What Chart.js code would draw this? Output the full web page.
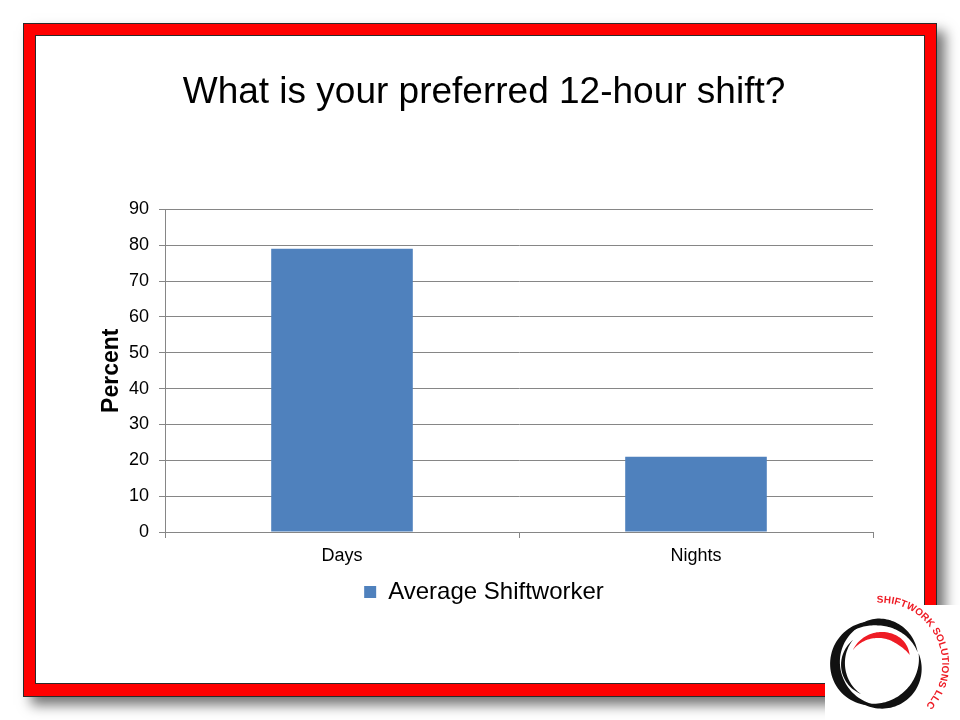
<!DOCTYPE html>
<html>
<head>
<meta charset="utf-8">
<title>What is your preferred 12-hour shift?</title>
<script src="https://cdn.jsdelivr.net/npm/chart.js@4.4.1/dist/chart.umd.min.js"></script>
<style>
  html, body { margin: 0; padding: 0; background: #ffffff; }
  #wrap { width: 960px; height: 720px; position: relative; }
</style>
</head>
<body>
<div id="wrap"><canvas id="chart" width="960" height="720"></canvas></div>
<script>
// Survey results
const chartTitle = 'What is your preferred 12-hour shift?';
const categories = ['Days', 'Nights'];
const seriesName = 'Average Shiftworker';
const percentValues = [79, 21];
const yTicks = [0, 10, 20, 30, 40, 50, 60, 70, 80, 90];
const yAxisTitle = 'Percent';
const logoText = 'SHIFTWORK SOLUTIONS LLC';

const FONT = "'Liberation Sans', Arial, Helvetica, sans-serif";

// Tapered arc stroke used for the badge swirls; `peak` sets where it is thickest
function swirl(ctx, cx, cy, r, a0, a1, maxW, color, peak) {
  const n = 48;
  const p = peak === undefined ? 0.5 : peak;
  const width = t => {
    const u = t < p ? t / p : (1 - t) / (1 - p);
    return maxW * Math.sin(Math.PI / 2 * Math.max(0, u));
  };
  ctx.fillStyle = color;
  ctx.beginPath();
  for (let i = 0; i <= n; i++) {
    const t = i / n;
    const a = a0 + (a1 - a0) * t;
    const rr = r + width(t) / 2;
    const x = cx + rr * Math.cos(a), y = cy + rr * Math.sin(a);
    if (i === 0) ctx.moveTo(x, y); else ctx.lineTo(x, y);
  }
  for (let i = n; i >= 0; i--) {
    const t = i / n;
    const a = a0 + (a1 - a0) * t;
    const rr = r - width(t) / 2;
    ctx.lineTo(cx + rr * Math.cos(a), cy + rr * Math.sin(a));
  }
  ctx.closePath();
  ctx.fill();
}

// Slide background: drop-shadowed red frame, plus the badge on top
const slideFrame = {
  id: 'slideFrame',
  beforeDraw(chart) {
    const ctx = chart.ctx;
    ctx.save();
    ctx.fillStyle = '#ffffff';
    ctx.fillRect(0, 0, chart.width, chart.height);

    ctx.shadowColor = 'rgba(0,0,0,0.55)';
    ctx.shadowBlur = 12;
    ctx.shadowOffsetX = 8;
    ctx.shadowOffsetY = 8;
    ctx.fillStyle = '#2b2b2b';
    ctx.fillRect(23, 23, 914, 674);
    ctx.shadowColor = 'transparent';

    ctx.fillStyle = '#ff0000';
    ctx.fillRect(24, 24, 912, 672);
    ctx.fillStyle = '#2b2b2b';
    ctx.fillRect(35, 35, 890, 649);
    ctx.fillStyle = '#ffffff';
    ctx.fillRect(36, 36, 888, 647);
    ctx.restore();
  },
  afterDraw(chart) {
    const ctx = chart.ctx;
    ctx.save();
    ctx.fillStyle = '#ffffff';
    ctx.fillRect(825, 605, 135, 115);

    const cx = 877, cy = 663;
    const D = Math.PI / 180;
    // black swirl rings
    swirl(ctx, cx, cy, 42, 90 * D, 262 * D, 10, '#111111', 0.45);
    swirl(ctx, cx + 1, cy, 41, 232 * D, 345 * D, 7, '#111111', 0.4);
    swirl(ctx, cx + 1, cy + 1, 42, -15 * D, 118 * D, 8, '#111111', 0.5);
    swirl(ctx, cx, cy + 1, 34, 118 * D, 225 * D, 4, '#111111', 0.5);
    // red inner arc
    swirl(ctx, cx + 3, cy + 4, 32, 212 * D, 338 * D, 7, '#ee1c25', 0.7);

    // curved lettering around the rings
    ctx.fillStyle = '#ee1c25';
    ctx.font = "bold 10px " + FONT;
    ctx.textAlign = 'center';
    ctx.textBaseline = 'middle';
    const tx = 881, ty = 664, r = 64;
    let ang = -94 * D;
    for (const ch of logoText) {
      const w = ctx.measureText(ch).width + 0.4;
      ang += (w / 2) / r;
      ctx.save();
      ctx.translate(tx + r * Math.cos(ang), ty + r * Math.sin(ang));
      ctx.rotate(ang + Math.PI / 2);
      ctx.fillText(ch, 0, 0);
      ctx.restore();
      ang += (w / 2) / r;
    }
    ctx.restore();
  }
};

new Chart(document.getElementById('chart'), {
  type: 'bar',
  data: {
    labels: categories,
    datasets: [{
      label: seriesName,
      data: percentValues,
      backgroundColor: '#4F81BD',
      borderWidth: 0,
      categoryPercentage: 0.8,
      barPercentage: 0.5
    }]
  },
  options: {
    responsive: false,
    animation: false,
    layout: { padding: { left: 95, right: 87, top: 50, bottom: 106 } },
    plugins: {
      title: {
        display: true,
        text: chartTitle,
        color: '#000000',
        font: { family: FONT, size: 37, weight: 'normal' },
        padding: { top: 21, bottom: 94 }
      },
      legend: {
        position: 'bottom',
        labels: {
          color: '#000000',
          boxWidth: 12,
          boxHeight: 12,
          font: { family: FONT, size: 24 },
          padding: 8
        }
      },
      tooltip: { enabled: false }
    },
    scales: {
      x: {
        grid: { display: true, drawOnChartArea: false, offset: true, color: '#868686', tickLength: 6 },
        border: { color: '#868686' },
        ticks: { color: '#000000', font: { family: FONT, size: 18 }, padding: 7 },
        afterFit(scale) { scale.height = 40; }
      },
      y: {
        min: 0,
        max: 90,
        afterBuildTicks(scale) { scale.ticks = yTicks.map(v => ({ value: v })); },
        grid: { color: '#868686', tickLength: 6 },
        border: { color: '#868686' },
        ticks: { color: '#000000', font: { family: FONT, size: 18 }, padding: 10 },
        title: {
          display: true,
          text: yAxisTitle,
          color: '#000000',
          font: { family: FONT, size: 23, weight: 'bold' },
          padding: { top: 3, bottom: 4 }
        },
        afterFit(scale) { scale.width = 70; }
      }
    }
  },
  plugins: [slideFrame]
});
</script>
</body>
</html>
